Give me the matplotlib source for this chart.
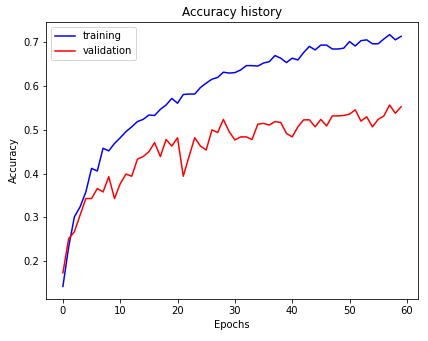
import matplotlib
matplotlib.use("Agg")
import matplotlib.pyplot as plt
import numpy as np

# accuracy per epoch
train_acc = [0.142, 0.232, 0.301, 0.324, 0.358, 0.412, 0.406, 0.458, 0.452, 0.469,
             0.482, 0.496, 0.507, 0.519, 0.524, 0.534, 0.533, 0.547, 0.557, 0.572,
             0.561, 0.581, 0.582, 0.582, 0.597, 0.607, 0.616, 0.620, 0.632, 0.630,
             0.631, 0.637, 0.647, 0.647, 0.646, 0.653, 0.656, 0.670, 0.664, 0.654,
             0.664, 0.660, 0.677, 0.691, 0.683, 0.694, 0.694, 0.685, 0.685, 0.687,
             0.702, 0.692, 0.704, 0.706, 0.697, 0.697, 0.708, 0.718, 0.706, 0.714]
val_acc = [0.173, 0.251, 0.267, 0.305, 0.343, 0.343, 0.366, 0.358, 0.393, 0.343,
           0.377, 0.399, 0.394, 0.433, 0.439, 0.450, 0.471, 0.439, 0.478, 0.463,
           0.482, 0.394, 0.439, 0.482, 0.463, 0.454, 0.500, 0.494, 0.524, 0.496,
           0.477, 0.484, 0.484, 0.478, 0.513, 0.515, 0.511, 0.519, 0.517, 0.492,
           0.484, 0.507, 0.523, 0.523, 0.507, 0.524, 0.509, 0.532, 0.532, 0.533,
           0.536, 0.546, 0.520, 0.530, 0.507, 0.524, 0.532, 0.557, 0.538, 0.553]
epochs = np.arange(len(train_acc))

fig = plt.figure(figsize=(428 / 72, 341 / 72), dpi=72)
ax = fig.add_axes([46 / 428, 1 - 299 / 341, 372 / 428, 277 / 341])

ax.plot(epochs, train_acc, color='blue', label='training')
ax.plot(epochs, val_acc, color='red', label='validation')

ax.set_title('Accuracy history')
ax.set_xlabel('Epochs')
ax.set_ylabel('Accuracy')
ax.legend(loc='upper left')

plt.savefig('out.png', dpi=72)
